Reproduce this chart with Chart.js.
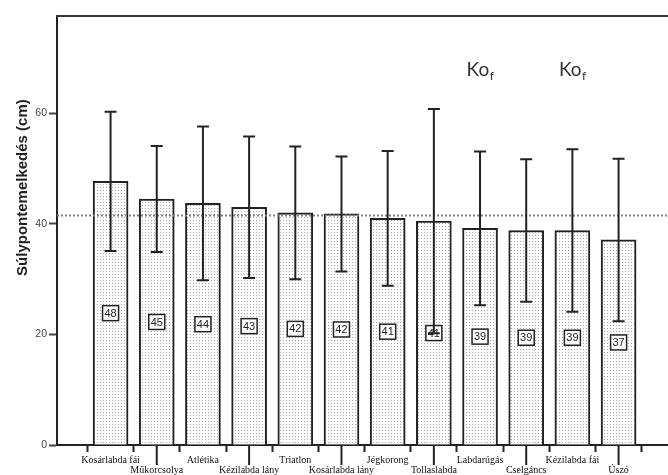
<!DOCTYPE html>
<html>
<head>
<meta charset="utf-8">
<script src="https://cdn.jsdelivr.net/npm/chart.js@4.4.1/dist/chart.umd.min.js"></script>
<style>
  html, body { margin: 0; padding: 0; background: #fff; overflow: hidden; }
  #wrap { width: 668px; height: 475px; position: relative; }
</style>
</head>
<body>
<div id="wrap"><canvas id="c" width="668" height="475"></canvas></div>
<script>
// Sport groups, mean jump height and standard deviation (cm)
const categories = ['Kosárlabda fái', 'Műkorcsolya', 'Atlétika', 'Kézilabda lány', 'Triatlon',
  'Kosárlabda lány', 'Jégkorong', 'Tollaslabda', 'Labdarúgás', 'Cselgáncs', 'Kézilabda fái', 'Úszó'];
const means = [47.7, 44.5, 43.7, 43.0, 42.0, 41.8, 41.0, 40.5, 39.2, 38.8, 38.8, 37.1];
const sds = [12.6, 9.6, 13.9, 12.8, 12.0, 10.4, 12.2, 20.3, 13.9, 12.9, 14.7, 14.7];
const yTicks = [0, 20, 40, 60];
const overallMean = 41.5;
// groups flagged as different (Ko_f) and the height at which the flag is written
const flaggedGroups = [8, 10];
const flagLevel = 66.8;
const flagText = 'Ko';
const flagSub = 'f';
const yTitle = 'Súlypontemelkedés (cm)';

const canvas = document.getElementById('c');
const ctx = canvas.getContext('2d');

// light dotted fill for the bars
function dotPattern() {
  const t = document.createElement('canvas');
  t.width = 3; t.height = 3;
  const g = t.getContext('2d');
  g.fillStyle = '#ffffff';
  g.fillRect(0, 0, 3, 3);
  g.fillStyle = '#a8a8a8';
  g.fillRect(1, 1, 1, 1);
  return ctx.createPattern(t, 'repeat');
}

const INK = '#222';

const overlay = {
  id: 'overlay',
  afterDatasetsDraw(chart) {
    const c = chart.ctx;
    const area = chart.chartArea;
    const xs = chart.scales.x, ys = chart.scales.y;
    const bars = chart.getDatasetMeta(0).data;
    c.save();

    // overall mean line
    const ym = ys.getPixelForValue(overallMean);
    c.strokeStyle = '#808080';
    c.lineWidth = 2;
    c.setLineDash([2, 2]);
    c.beginPath();
    c.moveTo(area.left, ym);
    c.lineTo(area.right, ym);
    c.stroke();
    c.setLineDash([]);

    // boxed value labels at mid-height of each bar
    c.font = '11px "Liberation Sans Narrow", "Liberation Sans", sans-serif';
    c.textAlign = 'center';
    c.textBaseline = 'middle';
    means.forEach((v, i) => {
      const x = bars[i].x;
      const y = ys.getPixelForValue(v / 2);
      const w = 16, h = 15;
      c.fillStyle = '#fff';
      c.fillRect(x - w / 2, y - h / 2, w, h);
      c.strokeStyle = INK;
      c.lineWidth = 1.5;
      c.strokeRect(x - w / 2, y - h / 2, w, h);
      c.fillStyle = INK;
      c.fillText(String(Math.round(v)), x, y + 0.5);
    });

    // error bars: mean ± SD
    c.strokeStyle = INK;
    c.lineWidth = 2;
    means.forEach((v, i) => {
      const x = bars[i].x;
      const yt = ys.getPixelForValue(v + sds[i]);
      const yb = ys.getPixelForValue(v - sds[i]);
      c.beginPath();
      c.moveTo(x, yt); c.lineTo(x, yb);
      c.moveTo(x - 6, yt); c.lineTo(x + 6, yt);
      c.moveTo(x - 6, yb); c.lineTo(x + 6, yb);
      c.stroke();
    });

    // Ko_f flags
    flaggedGroups.forEach(i => {
      const x = xs.getPixelForValue(i);
      const y = ys.getPixelForValue(flagLevel);
      c.fillStyle = '#333';
      c.textBaseline = 'alphabetic';
      c.font = '19px Lato, "Liberation Sans", sans-serif';
      const w1 = c.measureText(flagText).width;
      c.font = '12px Lato, "Liberation Sans", sans-serif';
      const w2 = c.measureText(flagSub).width;
      const x0 = x - (w1 + w2) / 2;
      c.textAlign = 'left';
      c.font = '19px Lato, "Liberation Sans", sans-serif';
      c.fillText(flagText, x0, y);
      c.font = '12px Lato, "Liberation Sans", sans-serif';
      c.fillText(flagSub, x0 + w1 + 0.5, y + 4);
    });

    // top frame line
    c.strokeStyle = '#333';
    c.lineWidth = 2;
    c.beginPath();
    c.moveTo(area.left - 1, area.top);
    c.lineTo(area.right, area.top);
    c.stroke();

    // longer tick marks for the second label row
    c.strokeStyle = INK;
    c.lineWidth = 2;
    categories.forEach((_, i) => {
      if (i % 2 === 1) {
        const x = xs.getPixelForValue(i);
        c.beginPath();
        c.moveTo(x, area.bottom);
        c.lineTo(x, area.bottom + 20);
        c.stroke();
      }
    });

    // y axis title
    c.translate(23, area.top + (area.bottom - area.top) * 0.4);
    c.rotate(-Math.PI / 2);
    c.fillStyle = INK;
    c.font = 'bold 15px "Liberation Sans", Arial, sans-serif';
    c.textAlign = 'center';
    c.textBaseline = 'middle';
    c.fillText(yTitle, 0, 0);
    c.restore();
  }
};

new Chart(canvas, {
  type: 'bar',
  data: {
    datasets: [{
      data: means.map((v, i) => ({ x: i, y: v })),
      backgroundColor: dotPattern(),
      borderColor: INK,
      borderWidth: 2,
      borderSkipped: 'start',
      barThickness: 35
    }]
  },
  options: {
    responsive: false,
    animation: false,
    devicePixelRatio: 1,
    layout: { padding: { top: 16, right: 0, left: 0, bottom: 0 } },
    plugins: { legend: { display: false }, tooltip: { enabled: false } },
    scales: {
      x: {
        type: 'linear',
        min: -1.16,
        max: 12.07,
        offset: false,
        afterBuildTicks: s => { s.ticks = categories.map((_, i) => ({ value: i })); },
        afterFit: s => { s.height = 30; },
        grid: { drawOnChartArea: false, tickLength: 7, tickWidth: 2, tickColor: INK },
        border: { color: INK, width: 2 },
        ticks: {
          autoSkip: false, maxRotation: 0, minRotation: 0, padding: 3,
          color: '#111',
          font: { family: '"Liberation Serif", "Times New Roman", serif', size: 10, lineHeight: 1.05 },
          callback: (v) => (v % 2 === 1 ? ['', categories[v]] : categories[v])
        }
      },
      y: {
        min: 0,
        max: 77.6,
        afterBuildTicks: s => { s.ticks = yTicks.map(v => ({ value: v })); },
        afterFit: s => { s.width = 57; },
        grid: { drawOnChartArea: false, tickLength: 8, tickWidth: 2, tickColor: '#444' },
        border: { color: INK, width: 2 },
        ticks: {
          padding: 2,
          color: '#444',
          font: { family: '"Liberation Sans Narrow", "Liberation Sans", sans-serif', size: 10.5 }
        }
      }
    }
  },
  plugins: [overlay]
});
</script>
</body>
</html>
